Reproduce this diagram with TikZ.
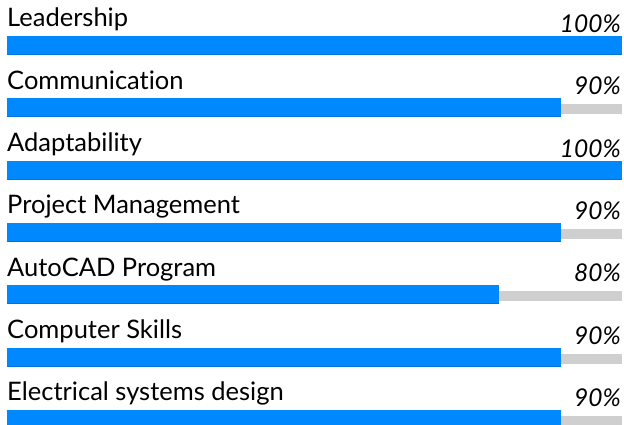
\documentclass[tikz,border=0pt]{standalone}
\usepackage{fontspec}
\setmainfont[Ligatures={NoCommon,NoRare}]{Lato}
\definecolor{barblue}{HTML}{0088FF}
\definecolor{baredge}{HTML}{0074DA}
\definecolor{track}{HTML}{CFCFCF}
\begin{document}
\begin{tikzpicture}[x=1pt,y=-1pt,
  lbl/.style={anchor=base west,inner sep=0pt,font=\fontsize{25.5}{30}\selectfont},
  pct/.style={anchor=base east,inner sep=0pt,font=\fontsize{24.5}{29}\selectfont\itshape},
  trackbar/.style={fill=track,draw=none},
  bluebar/.style={fill=barblue,draw=none}]
\useasboundingbox (0,0) rectangle (624,425);
\foreach \i/\name/\p in {0/Leadership/100,1/Communication/90,2/Adaptability/100,3/Project Management/90,4/AutoCAD Program/80,5/Computer Skills/90,6/Electrical systems design/90}{
  \pgfmathsetmacro{\t}{36+62.33*\i}
  \pgfmathsetmacro{\e}{7+6.15*\p}
  \node[lbl] (l\i) at (7,\t-9) {\name};
  \node[pct] (p\i) at (621,\t-3.5) {\p\%};
  \fill[trackbar] (7,\t+6) rectangle (622,\t+16);
  \fill[bluebar] (7,\t) rectangle (\e,\t+19);
  \draw[baredge,line width=1pt] (7,\t+18.5) -- (\e,\t+18.5);
}
\end{tikzpicture}
\end{document}
